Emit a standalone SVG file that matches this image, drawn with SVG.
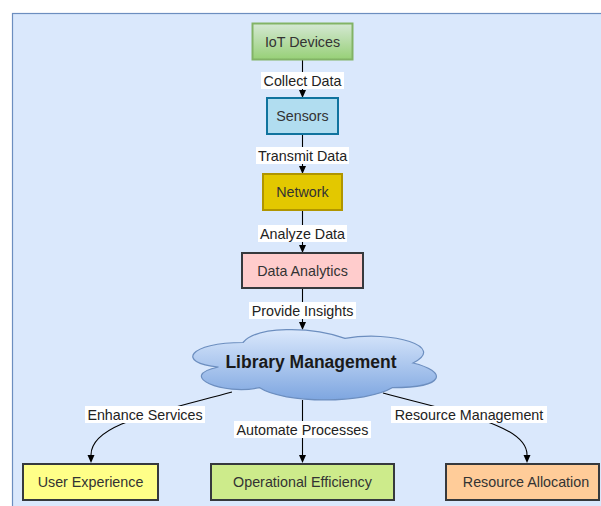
<svg xmlns="http://www.w3.org/2000/svg" width="601" height="506" viewBox="0 0 601 506">
  <defs>
    <linearGradient id="gGreen" x1="0" y1="0" x2="0" y2="1">
      <stop offset="0" stop-color="#d5e8d4"/>
      <stop offset="1" stop-color="#97d077"/>
    </linearGradient>
    <linearGradient id="gCloud" x1="0" y1="0" x2="0" y2="1">
      <stop offset="0" stop-color="#dae8fc"/>
      <stop offset="1" stop-color="#7ea6e0"/>
    </linearGradient>
    <marker id="arrow" markerUnits="userSpaceOnUse" markerWidth="8" markerHeight="8" refX="0" refY="4" orient="auto" viewBox="0 0 8 8">
      <path d="M0,0.5 L8,4 L0,7.5 z" fill="#000"/>
    </marker>
    <style>
      .node-text { font-family: "Liberation Sans", Arial, sans-serif; font-size: 14.3px; fill: #333; text-anchor: middle; }
      .edge { fill: none; stroke: #000; stroke-width: 1.1; }
      .edge-label-bg { fill: #fff; }
      .edge-label { font-family: "Liberation Sans", Arial, sans-serif; font-size: 14.3px; fill: #222; text-anchor: middle; }
      .box-dark { stroke: #36393d; stroke-width: 2; }
    </style>
  </defs>

  <!-- background panel -->
  <rect x="12.5" y="13.5" width="600" height="500" fill="#dae8fc" stroke="#6c8ebf" stroke-width="1.2"/>

  <!-- connectors -->
  <g id="connectors">
    <path class="edge" d="M302.5,60 L302.5,90" marker-end="url(#arrow)"/>
    <path class="edge" d="M302.5,134 L302.5,166" marker-end="url(#arrow)"/>
    <path class="edge" d="M302.5,210 L302.5,245" marker-end="url(#arrow)"/>
    <path class="edge" d="M302.5,288 L302.5,322" marker-end="url(#arrow)"/>
    <path class="edge" d="M232,392 C150,414 91,425 91,455" marker-end="url(#arrow)"/>
    <path class="edge" d="M302.5,400 L302.5,455" marker-end="url(#arrow)"/>
    <path class="edge" d="M383,393 C460,414 527,425 527,455" marker-end="url(#arrow)"/>

    <g id="label-collect">
      <rect class="edge-label-bg" x="261" y="72" width="83" height="17"/>
      <text class="edge-label" x="302.5" y="85.5">Collect Data</text>
    </g>
    <g id="label-transmit">
      <rect class="edge-label-bg" x="256" y="147" width="93" height="17"/>
      <text class="edge-label" x="302.5" y="160.5">Transmit Data</text>
    </g>
    <g id="label-analyze">
      <rect class="edge-label-bg" x="258" y="225" width="89" height="17"/>
      <text class="edge-label" x="302.5" y="238.5">Analyze Data</text>
    </g>
    <g id="label-insights">
      <rect class="edge-label-bg" x="249" y="302" width="107" height="17"/>
      <text class="edge-label" x="302.5" y="315.5">Provide Insights</text>
    </g>
    <g id="label-enhance">
      <rect class="edge-label-bg" x="85" y="406" width="120" height="17"/>
      <text class="edge-label" x="145" y="419.5">Enhance Services</text>
    </g>
    <g id="label-automate">
      <rect class="edge-label-bg" x="234" y="421" width="137" height="17"/>
      <text class="edge-label" x="302.5" y="434.5">Automate Processes</text>
    </g>
    <g id="label-resource">
      <rect class="edge-label-bg" x="391" y="406" width="156" height="17"/>
      <text class="edge-label" x="469" y="419.5">Resource Management</text>
    </g>
  </g>

  <!-- nodes -->
  <g id="iot-devices">
    <rect x="252.5" y="23.5" width="100" height="36" fill="url(#gGreen)" stroke="#82b366" stroke-width="2"/>
    <text class="node-text" x="302.5" y="46.5">IoT Devices</text>
  </g>

  <g id="sensors">
    <rect x="267" y="98" width="71" height="36" fill="#b1ddf0" stroke="#10739e" stroke-width="2"/>
    <text class="node-text" x="302.5" y="121">Sensors</text>
  </g>

  <g id="network">
    <rect x="263" y="174" width="79" height="36" fill="#e3c800" stroke="#b09500" stroke-width="2"/>
    <text class="node-text" x="302.5" y="197">Network</text>
  </g>

  <g id="data-analytics">
    <rect x="242" y="253" width="121" height="35" fill="#ffcccc" class="box-dark"/>
    <text class="node-text" x="302.5" y="275.5">Data Analytics</text>
  </g>

  <g id="library-management">
    <path d="M243,342.5 C189,342.5 175,363 218.5,367 C175,376 224,395.8 259.3,387.6 C283.8,404 365.4,404 392.6,387.6 C447,387.6 447,371.2 413,363 C447,346.6 392.6,330.2 345,338.4 C311,326.1 256.6,326.1 243,342.5 Z" fill="url(#gCloud)" stroke="#6c8ebf" stroke-width="1.2"/>
    <text x="311" y="368" font-family="'Liberation Sans', Arial, sans-serif" font-size="17.5" font-weight="bold" fill="#1a1a1a" text-anchor="middle">Library Management</text>
  </g>

  <g id="user-experience">
    <rect x="23" y="464" width="135" height="36" fill="#ffff88" class="box-dark"/>
    <text class="node-text" x="90.5" y="487">User Experience</text>
  </g>

  <g id="operational-efficiency">
    <rect x="211" y="464" width="183" height="36" fill="#cdeb8b" class="box-dark"/>
    <text class="node-text" x="302.5" y="487">Operational Efficiency</text>
  </g>

  <g id="resource-allocation">
    <rect x="446" y="464" width="153" height="36" fill="#ffcc99" class="box-dark"/>
    <text class="node-text" x="526" y="487">Resource Allocation</text>
  </g>
</svg>
